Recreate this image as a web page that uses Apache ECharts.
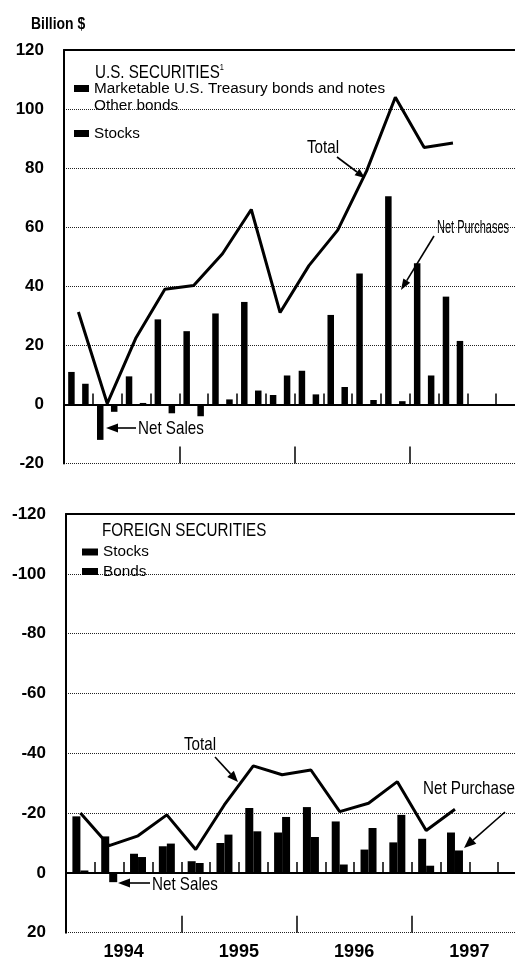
<!DOCTYPE html>
<html><head><meta charset="utf-8">
<script src="https://cdn.jsdelivr.net/npm/echarts@6/dist/echarts.min.js"></script>
<style>html,body{margin:0;padding:0;background:#fff;overflow:hidden}#c{width:530px;height:961px}</style>
</head><body><div id="c"></div>
<script>
// ---- data ----
const quarters = ['1994 Q1','1994 Q2','1994 Q3','1994 Q4','1995 Q1','1995 Q2','1995 Q3','1995 Q4',
                  '1996 Q1','1996 Q2','1996 Q3','1996 Q4','1997 Q1','1997 Q2','1997 Q3','1997 Q4'];
const years = ['1994','1995','1996','1997'];
const usTicks = {min:-20, max:120, step:20};
const foreignTicks = {min:-120, max:20, step:20};
// U.S. securities (billion $), quarterly
const usTreasury = [11, -12, 9.5, 28.8, 24.8, 30.8, 34.7, 3.2, 11.4, 30.3, 44.3, 70.5, 47.8, 36.5];
const usStocks   = [7, -2.5, 0.5, -3, -4, 1.7, 4.7, 9.8, 3.4, 5.9, 1.5, 1.1, 9.8, 21.5];
const usOtherBonds = [];
const usTotal    = [31.3, 0.3, 22.6, 39, 40.3, 51, 66, 31.1, 47, 59, 79, 104, 87, 88.5];
// Foreign securities (billion $), quarterly
const fStocks = [-18.9, -12.2, -6.4, -8.9, -3.9, -10, -21.7, -13.5, -22, -17.2, -7.8, -10.2, -11.4, -13.5];
const fBonds  = [-0.8, 3.1, -5.3, -9.8, -3.3, -12.8, -13.9, -18.7, -12, -2.8, -15, -19.4, -2.4, -7.5];
const fTotal  = [-20, -9.1, -12.4, -19.4, -7.8, -22.8, -35.8, -32.8, -34.4, -20.5, -23.3, -30.5, -14.2, -21.3];

const SANS = '"Liberation Sans",Arial,sans-serif';
const BLACK = '#000';

const chart = echarts.init(document.getElementById('c'), null, {renderer:'canvas'});

function qAxis(grid){
  return {gridIndex:grid, type:'category', data:quarters, position:'bottom', boundaryGap:true,
    axisLine:{show:true, lineStyle:{color:BLACK, width:2}},
    axisTick:{show:true, inside:true, length:11, interval:0, lineStyle:{color:BLACK, width:1.5}},
    axisLabel:{show:false}, splitLine:{show:false}};
}
function yrAxis(grid, labels){
  return {gridIndex:grid, type:'category', data:years, position:'bottom', boundaryGap:true,
    axisLine:{show:false},
    axisTick:{show:true, inside:true, length:17, interval:0, lineStyle:{color:BLACK, width:1.5}},
    axisLabel:{show:labels, interval:0, color:BLACK, fontFamily:SANS, fontWeight:'bold', fontSize:18, margin:10},
    splitLine:{show:false}};
}
function topAxis(grid){
  return {gridIndex:grid, type:'category', data:years, position:'top',
    axisLine:{show:true, lineStyle:{color:BLACK, width:2}}, axisTick:{show:false}, axisLabel:{show:false}, splitLine:{show:false}};
}
function yAxis(grid, t, inverse){
  return {gridIndex:grid, type:'value', min:t.min, max:t.max, interval:t.step, inverse:inverse,
    axisLine:{show:true, lineStyle:{color:BLACK, width:2}}, axisTick:{show:false},
    axisLabel:{color:BLACK, fontFamily:SANS, fontWeight:'bold', fontSize:17, margin:20},
    splitLine:{show:true, lineStyle:{color:'#222', type:'dotted', width:1}}};
}

function arrow(x1,y1,x2,y2,L,W){
  const a = Math.atan2(y2-y1, x2-x1);
  const bx = x2 - L*Math.cos(a), by = y2 - L*Math.sin(a);
  const px = -Math.sin(a)*W, py = Math.cos(a)*W;
  return [
    {type:'line', z:100, shape:{x1:x1,y1:y1,x2:bx,y2:by}, style:{stroke:BLACK, lineWidth:1.6}},
    {type:'polygon', z:100, shape:{points:[[x2,y2],[bx+px,by+py],[bx-px,by-py]]}, style:{fill:BLACK}}
  ];
}
// condensed text (no narrow font installed, so scale horizontally)
function label(txt,x,y,size,sx,weight,rich){
  const st = {text:txt, fill:BLACK, font:(weight||'normal')+' '+(size||18.5)+'px '+SANS,
              textVerticalAlign:'middle', textAlign:'left'};
  if (rich) st.rich = rich;
  return {type:'text', z:100, x:x, y:y, scaleX:(sx||0.82), style:st};
}

const legendCommon = {orient:'horizontal', padding:0, itemGap:0, selectedMode:false, icon:'rect',
  textStyle:{color:BLACK, fontFamily:SANS, fontSize:15.3}};

const option = {
  animation:false,
  backgroundColor:'#fff',
  legend:[
    Object.assign({}, legendCommon, {data:[{name:'Marketable U.S. Treasury bonds and notes'}], left:74, top:81, itemWidth:15, itemHeight:7}),
    Object.assign({}, legendCommon, {data:[{name:'Other bonds', icon:'none'}], left:74, top:98.5, itemWidth:15, itemHeight:7}),
    Object.assign({}, legendCommon, {data:[{name:'Stocks'}], left:74, top:126, itemWidth:15, itemHeight:7}),
    Object.assign({}, legendCommon, {data:[{name:'Stocks'}], left:82, top:544.5, itemWidth:16, itemHeight:7}),
    Object.assign({}, legendCommon, {data:[{name:'Bonds'}], left:82, top:564, itemWidth:16, itemHeight:7})
  ],
  grid:[
    {left:64, top:50, width:461, height:413.5},
    {left:66, top:514, width:461, height:418.7}
  ],
  xAxis:[qAxis(0), yrAxis(0,false), topAxis(0), qAxis(1), yrAxis(1,true), topAxis(1)],
  yAxis:[yAxis(0, usTicks, false), yAxis(1, foreignTicks, true)],
  series:[
    {name:'Marketable U.S. Treasury bonds and notes', type:'bar', xAxisIndex:0, yAxisIndex:0, data:usTreasury,
      barWidth:6.5, barGap:'115%', itemStyle:{color:BLACK}},
    {name:'Stocks', type:'bar', xAxisIndex:0, yAxisIndex:0, data:usStocks,
      barWidth:6.5, barGap:'115%', itemStyle:{color:BLACK}},
    {name:'Other bonds', type:'line', xAxisIndex:0, yAxisIndex:0, data:usOtherBonds, itemStyle:{color:BLACK}},
    {name:'Total', type:'line', xAxisIndex:0, yAxisIndex:0, data:usTotal, symbol:'none', z:5,
      lineStyle:{color:BLACK, width:3}, itemStyle:{color:BLACK}},
    {name:'Stocks', type:'bar', xAxisIndex:3, yAxisIndex:1, data:fStocks,
      barWidth:8, barGap:'0%', itemStyle:{color:BLACK}},
    {name:'Bonds', type:'bar', xAxisIndex:3, yAxisIndex:1, data:fBonds,
      barWidth:8, barGap:'0%', itemStyle:{color:BLACK}},
    {name:'Foreign total', type:'line', xAxisIndex:3, yAxisIndex:1, data:fTotal, symbol:'none', z:5,
      lineStyle:{color:BLACK, width:3}, itemStyle:{color:BLACK}}
  ],
  graphic:[].concat(
    [label('Billion $', 31, 24.5, 17, 0.82, 'bold')],
    [label('U.S. SECURITIES{s|1}', 95, 73, 18.5, 0.82, 'normal',
       {s:{font:'normal 9px '+SANS, verticalAlign:'top', fill:BLACK}})],
    [label('FOREIGN SECURITIES', 102, 530.5, 18.5, 0.82)],
    [label('Total', 307, 148)], arrow(337,157,365,178,10,4),
    [label('Net Purchases', 437, 228, 18, 0.61)], arrow(434,236,401,290,11,4),
    [label('Net Sales', 138, 429)], arrow(136,428,106,428,12,4.5),
    [label('Total', 184, 745)], arrow(215,757,238,782,11,4.5),
    [label('Net Purchases', 423, 789)], arrow(505,812,464,848,12,5),
    [label('Net Sales', 152, 885)], arrow(150,883,118,883,12,4.5)
  )
};
chart.setOption(option);
</script>
</body></html>
